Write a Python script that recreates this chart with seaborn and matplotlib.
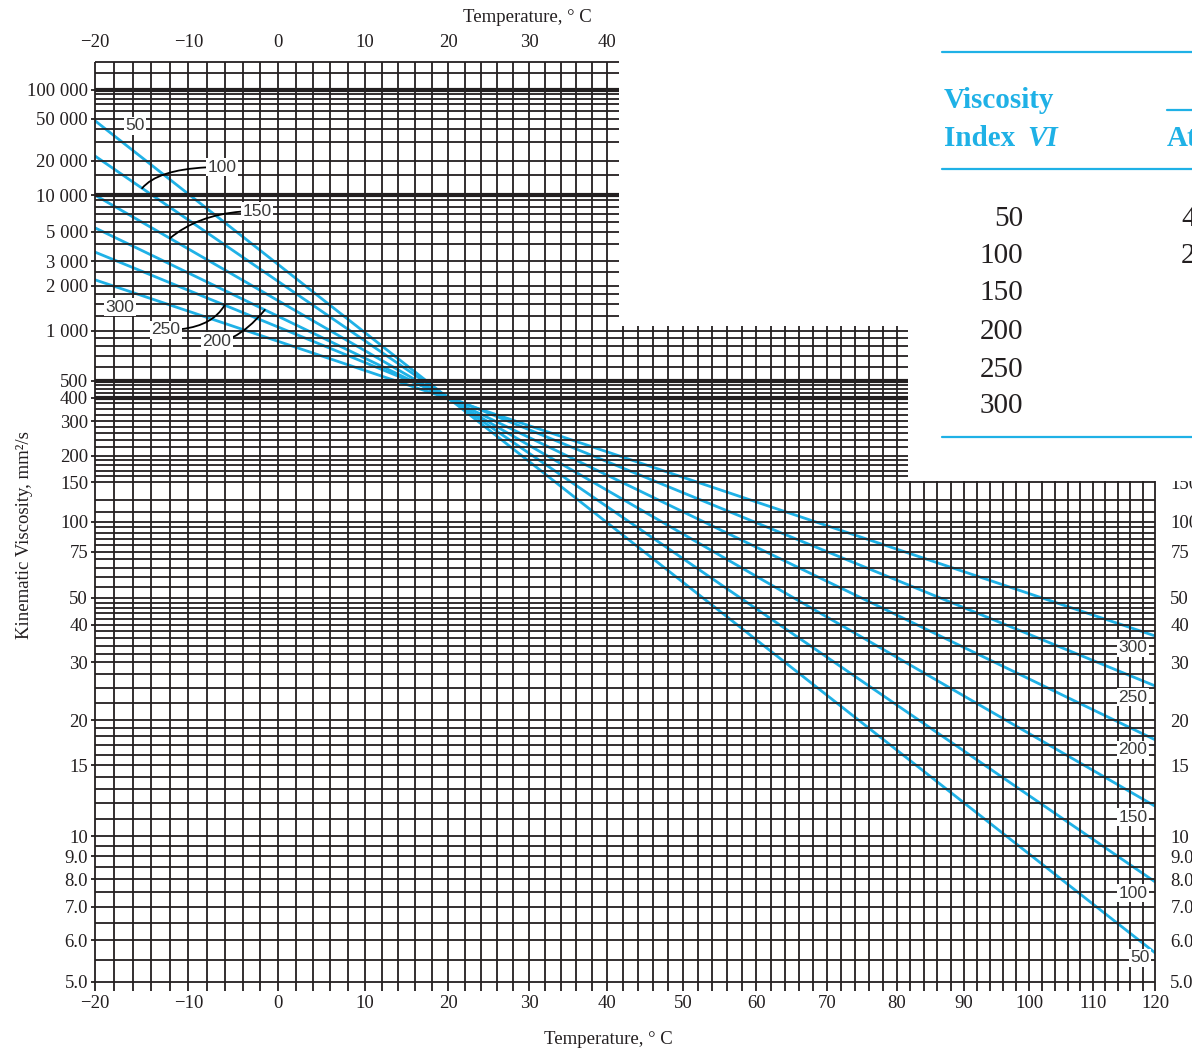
import numpy as np
import pandas as pd
import matplotlib
matplotlib.use("Agg")
import matplotlib.pyplot as plt
from matplotlib.patches import Rectangle
from matplotlib.lines import Line2D
import seaborn as sns

vi_values = [50, 100, 150, 200, 250, 300]
line_temps = [-20, 120]
visc_at_minus20 = [48000, 22100, 9980, 5385, 3504, 2200]
visc_at_120 = [5.67, 7.9, 11.8, 17.6, 25.3, 36.7]

# axis ticks and labels
temp_ticks = [-20, -10, 0, 10, 20, 30, 40, 50, 60, 70, 80, 90, 100, 110, 120]
temp_labels = ["\u221220", "\u221210", "0", "10", "20", "30", "40", "50", "60",
               "70", "80", "90", "100", "110", "120"]
top_temp_ticks = [-20, -10, 0, 10, 20, 30, 40]
left_visc_ticks = [100000, 50000, 20000, 10000, 5000, 3000, 2000, 1000, 500, 400,
                   300, 200, 150, 100, 75, 50, 40, 30, 20, 15, 10, 9, 8, 7, 6, 5]
left_visc_labels = ["100 000", "50 000", "20 000", "10 000", "5 000", "3 000", "2 000",
                    "1 000", "500", "400", "300", "200", "150", "100", "75", "50", "40",
                    "30", "20", "15", "10", "9.0", "8.0", "7.0", "6.0", "5.0"]
right_visc_ticks = [150, 100, 75, 50, 40, 30, 20, 15, 10, 9, 8, 7, 6, 5]
right_visc_labels = ["150", "100", "75", "50", "40", "30", "20", "15", "10",
                     "9.0", "8.0", "7.0", "6.0", "5.0"]

# chart paper grid
grid_temps = list(range(-20, 121, 2))
grid_visc_upper = [200000, 150000, 90000, 80000, 70000, 60000, 50000, 40000, 30000,
                   20000, 15000, 9000, 8000, 7000, 6000, 5000, 4000, 3000, 2500, 2000,
                   1750, 1500, 1250]
grid_visc_lower = [1000, 900, 800, 700, 600, 475, 450, 425,
                   375, 350, 325, 300, 280, 260, 240, 220, 200, 190, 180, 170, 160,
                   150, 125, 110, 100, 95, 90, 85, 80, 75, 70, 65, 60, 55, 50, 48, 46,
                   44, 42, 40, 38, 36, 34, 32, 30, 27.5, 25, 22.5, 20, 19, 18, 17, 16,
                   15, 14, 13, 12, 11, 10, 9.5, 9, 8.5, 8, 7.5, 7, 6.5, 6, 5.5, 5]
heavy_visc_upper = [100000, 10000]
heavy_visc_lower = [500, 400]

# table beside the chart
table_vi = ["50", "100", "150", "200", "250", "300"]
table_next_col = ["4", "2"]

W, H = 1192, 1051
BLUE = "#1fb1e6"
INK = "#231f20"


def fx(px):
    return px / W


def fy(py):
    return 1 - py / H


# ASTM style axes: log of absolute temperature, log-log of viscosity
def t_fwd(t):
    return np.log10(np.clip(np.asarray(t, dtype=float), -270, None) + 273.15)


def t_inv(u):
    with np.errstate(over="ignore"):
        return 10 ** np.asarray(u, dtype=float) - 273.15


def v_fwd(v):
    return np.log10(np.log10(np.clip(np.asarray(v, dtype=float), 0.35, None) + 0.7))


def v_inv(u):
    with np.errstate(over="ignore"):
        return 10 ** (10 ** np.asarray(u, dtype=float)) - 0.7


def on_line(vi, t):
    i = vi_values.index(vi)
    u0, u1 = t_fwd(line_temps[0]), t_fwd(line_temps[1])
    w0, w1 = v_fwd(visc_at_minus20[i]), v_fwd(visc_at_120[i])
    f = (t_fwd(t) - u0) / (u1 - u0)
    return float(v_inv(w0 + f * (w1 - w0)))


sns.set_theme(style="white")
plt.rcParams["font.family"] = ["Liberation Serif", "DejaVu Serif"]

fig = plt.figure(figsize=(W / 100, H / 100), dpi=100)
ax = fig.add_axes([fx(95), fy(982), 1060 / W, 920 / H])
ax.set_xscale("function", functions=(t_fwd, t_inv))
ax.set_yscale("function", functions=(v_fwd, v_inv))

rows = []
for vi, a, b in zip(vi_values, visc_at_minus20, visc_at_120):
    rows.append((vi, line_temps[0], a))
    rows.append((vi, line_temps[1], b))
df = pd.DataFrame(rows, columns=["VI", "T", "nu"])
sns.lineplot(data=df, x="T", y="nu", units="VI", estimator=None, sort=False,
             color=BLUE, lw=2.0, legend=False, ax=ax, zorder=1)

# grid (L-shaped chart paper)
kw = dict(colors=INK, clip_on=False, zorder=2)
ax.hlines(grid_visc_upper, -20, 41.5, lw=1.3, **kw)
ax.hlines(grid_visc_lower, -20, 120, lw=1.3, **kw)
ax.hlines(heavy_visc_upper, -20, 41.5, lw=3.0, **kw)
ax.hlines(heavy_visc_lower, -20, 120, lw=3.0, **kw)
for t in grid_temps:
    ax.vlines(t, 5, 200000 if t <= 40 else 1080, lw=1.3, **kw)

ax.set_xlim(-20, 120)
ax.set_ylim(5, 200000)
ax.set_xlabel("")
ax.set_ylabel("")
for s in ax.spines.values():
    s.set_visible(False)

ax.set_xticks(temp_ticks)
ax.set_xticklabels(temp_labels)
ax.set_xticks(grid_temps, minor=True)
ax.tick_params(axis="x", which="both", direction="out", length=6.5, width=1.3,
               color=INK, labelsize=13.5, labelcolor=INK, pad=3, bottom=True)
ax.set_yticks(left_visc_ticks)
ax.set_yticklabels(left_visc_labels)
ax.set_yticks([], minor=True)
ax.tick_params(axis="y", which="both", direction="out", length=3, width=1.3,
               color=INK, labelsize=13.5, labelcolor=INK, pad=2, left=True)

ax_top = ax.twiny()
ax_top.set_xscale("function", functions=(t_fwd, t_inv))
ax_top.set_xlim(-20, 120)
ax_top.set_xticks(top_temp_ticks)
ax_top.set_xticklabels(temp_labels[:len(top_temp_ticks)])
ax_top.set_xticks([], minor=True)
ax_top.tick_params(axis="x", length=0, labelsize=13.5, labelcolor=INK, pad=8)

ax_right = ax.twinx()
ax_right.set_yscale("function", functions=(v_fwd, v_inv))
ax_right.set_ylim(5, 200000)
ax_right.set_yticks(right_visc_ticks)
ax_right.set_yticklabels(right_visc_labels)
ax_right.set_yticks([], minor=True)
ax_right.tick_params(axis="y", length=0, labelsize=13.5, labelcolor=INK, pad=11)
ax_right.grid(False)
ax_top.grid(False)
for a in (ax_top, ax_right):
    for s in a.spines.values():
        s.set_visible(False)

# axis titles
fig.text(fx(527), fy(18), "Temperature, \u00b0 C", ha="center", va="center",
         fontsize=13.5, color=INK)
fig.text(fx(608), fy(1040), "Temperature, \u00b0 C", ha="center", va="center",
         fontsize=13.5, color=INK)
fig.text(fx(25), fy(535), "Kinematic Viscosity, mm\u00b2/s", ha="center", va="center",
         rotation=90, fontsize=13.5, color=INK)

# labels on the VI lines
box = dict(boxstyle="square,pad=0.08", fc="white", ec="none")
lab_kw = dict(fontsize=12.5, color="#3a3a3a", family=["Liberation Sans", "DejaVu Sans"],
              ha="center", va="center", bbox=box, zorder=5)
ax.text(fx(135), fy(126), "50", transform=fig.transFigure, **lab_kw)
ax.text(fx(120), fy(307), "300", transform=fig.transFigure, **lab_kw)
leaders = [("100", 100, -15, 222, 167, 50),
           ("150", 150, -12, 257, 211, 40),
           ("250", 250, -6, 166, 330, 60),
           ("200", 200, -1.5, 217, 341, 50)]
for txt, vi, t, px, py, ang in leaders:
    ax.annotate(txt, xy=(t, on_line(vi, t)), xycoords="data",
                xytext=(fx(px), fy(py)), textcoords="figure fraction",
                arrowprops=dict(arrowstyle="-", color="black", lw=1.3,
                                shrinkA=0, shrinkB=0,
                                connectionstyle=f"angle3,angleA=0,angleB={ang}"),
                **lab_kw)
right_pos = [(1140, 958), (1133, 893), (1133, 817), (1133, 750), (1133, 697), (1133, 648)]
for vi, (px, py) in zip(vi_values, right_pos):
    ax.text(fx(px), fy(py), str(vi), transform=fig.transFigure, **lab_kw)

# table on the upper right
fig.add_artist(Rectangle((fx(908), fy(481)), 1 - fx(908), 481 / H,
                         transform=fig.transFigure, fc="white", ec="none", zorder=10))
for py, x0 in [(52, 942), (169, 942), (437, 942), (110, 1167)]:
    fig.add_artist(Line2D([fx(x0), 1.0], [fy(py), fy(py)], transform=fig.transFigure,
                          color=BLUE, lw=1.6, zorder=11))
hdr = dict(fontsize=21, color=BLUE, weight="bold", va="center", ha="left", zorder=12)
fig.text(fx(944), fy(100), "Viscosity", **hdr)
fig.text(fx(944), fy(138), "Index", **hdr)
fig.text(fx(1027), fy(138), "VI", style="italic", **hdr)
fig.text(fx(1167), fy(138), "At", **hdr)
for s, py in zip(table_vi, [219, 256, 293, 332, 370, 406]):
    fig.text(fx(1023), fy(py), s, fontsize=21, color=INK, ha="right", va="center", zorder=12)
for s, py in zip(table_next_col, [219, 256]):
    fig.text(fx(1181), fy(py), s, fontsize=21, color=INK, ha="left", va="center", zorder=12)

fig.savefig("out.png", dpi=100)
